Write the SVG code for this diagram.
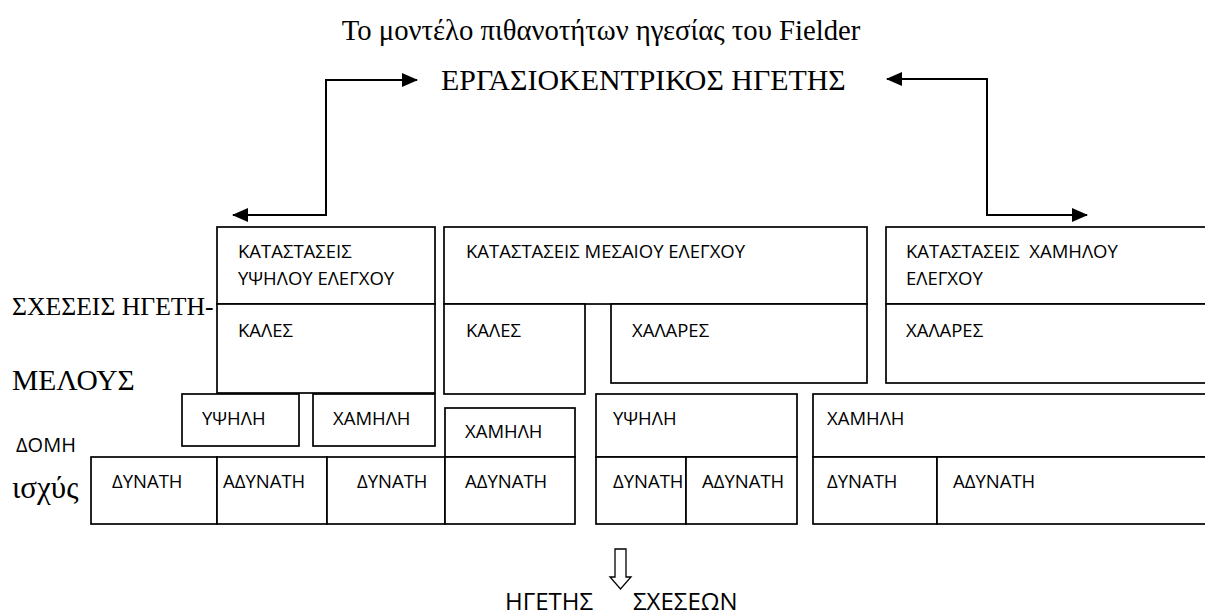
<svg xmlns="http://www.w3.org/2000/svg" width="1205" height="615" viewBox="0 0 1205 615">
  <style>
    .serif { font-family: "Liberation Serif", "Times New Roman", serif; fill: #000; }
    .lbl { font-family: "Open Sans", "Noto Sans", sans-serif; font-size: 18.5px; fill: #000; }
    .big { font-family: "Open Sans", "Noto Sans", sans-serif; font-size: 24px; fill: #000; }
    .box { fill: #fff; stroke: #000; stroke-width: 1.7; }
    .conn { fill: none; stroke: #000; stroke-width: 2; }
  </style>
  <defs>
    <marker id="arrow" viewBox="0 0 16 14" refX="15" refY="7" markerWidth="16" markerHeight="14" markerUnits="userSpaceOnUse" orient="auto-start-reverse">
      <path d="M0,0 L16,7 L0,14 Z" fill="#000"/>
    </marker>
  </defs>

  <rect width="1205" height="615" fill="#fff"/>

  <!-- headings -->
  <text class="serif" x="601" y="40" font-size="28.7" text-anchor="middle">Το μοντέλο πιθανοτήτων ηγεσίας του Fielder</text>
  <text id="task-leader" class="serif" x="441" y="90" font-size="29.9">ΕΡΓΑΣΙΟΚΕΝΤΡΙΚΟΣ ΗΓΕΤΗΣ</text>

  <!-- row labels -->
  <text class="serif" x="12" y="315" font-size="25.7">ΣΧΕΣΕΙΣ ΗΓΕΤΗ-</text>
  <text class="serif" x="12" y="390" font-size="29.5">ΜΕΛΟΥΣ</text>
  <text class="lbl" x="16" y="452" style="font-size:20px">ΔΟΜΗ</text>
  <text class="serif" x="12" y="498" font-size="31">ισχύς</text>

  <!-- connectors -->
  <g id="connectors">
    <path class="conn" d="M233,215 H326 V80 H417" marker-start="url(#arrow)" marker-end="url(#arrow)"/>
    <path class="conn" d="M887,79 H987 V215 H1087" marker-start="url(#arrow)" marker-end="url(#arrow)"/>
    <!-- hollow downward arrow -->
    <path d="M615,549 H626 V577 H631 L620.5,589 L610,577 H615 Z" fill="#fff" stroke="#000" stroke-width="1.3"/>
  </g>

  <!-- high control column -->
  <g id="high-control">
    <rect class="box" x="217" y="227" width="218" height="77"/>
    <text class="lbl" x="238" y="258">ΚΑΤΑΣΤΑΣΕΙΣ</text>
    <text class="lbl" x="238" y="285">ΥΨΗΛΟΥ ΕΛΕΓΧΟΥ</text>
  </g>
  <g id="high-good">
    <rect class="box" x="217" y="304" width="218" height="89"/>
    <text class="lbl" x="238" y="337">ΚΑΛΕΣ</text>
  </g>
  <g id="high-struct-high">
    <rect class="box" x="182" y="394" width="117" height="52"/>
    <text class="lbl" x="202" y="425">ΥΨΗΛΗ</text>
  </g>
  <g id="high-struct-low">
    <rect class="box" x="313" y="394" width="122" height="52"/>
    <text class="lbl" x="333" y="425">ΧΑΜΗΛΗ</text>
  </g>
  <g id="high-power">
    <rect class="box" x="91" y="457" width="126" height="67"/>
    <text class="lbl" x="112" y="488">ΔΥΝΑΤΗ</text>
    <rect class="box" x="217" y="457" width="110" height="67"/>
    <text class="lbl" x="223" y="488">ΑΔΥΝΑΤΗ</text>
    <rect class="box" x="327" y="457" width="118" height="67"/>
    <text class="lbl" x="357" y="488">ΔΥΝΑΤΗ</text>
  </g>

  <!-- medium control column -->
  <g id="mid-control">
    <rect class="box" x="444" y="227" width="423" height="77"/>
    <text class="lbl" x="466" y="258">ΚΑΤΑΣΤΑΣΕΙΣ ΜΕΣΑΙΟΥ ΕΛΕΓΧΟΥ</text>
  </g>
  <g id="mid-good">
    <rect class="box" x="444" y="304" width="141" height="90"/>
    <text class="lbl" x="466" y="337">ΚΑΛΕΣ</text>
  </g>
  <g id="mid-poor">
    <rect class="box" x="611" y="304" width="256" height="79"/>
    <text class="lbl" x="632" y="337">ΧΑΛΑΡΕΣ</text>
  </g>
  <g id="mid-struct-low">
    <rect class="box" x="445" y="408" width="130" height="49"/>
    <text class="lbl" x="465" y="438">ΧΑΜΗΛΗ</text>
    <rect class="box" x="445" y="457" width="130" height="67"/>
    <text class="lbl" x="465" y="488">ΑΔΥΝΑΤΗ</text>
  </g>
  <g id="mid-struct-high">
    <rect class="box" x="596" y="394" width="201" height="63"/>
    <text class="lbl" x="613" y="425">ΥΨΗΛΗ</text>
    <rect class="box" x="596" y="457" width="90" height="67"/>
    <text class="lbl" x="613" y="488">ΔΥΝΑΤΗ</text>
    <rect class="box" x="686" y="457" width="111" height="67"/>
    <text class="lbl" x="702" y="488">ΑΔΥΝΑΤΗ</text>
  </g>

  <!-- low control column -->
  <g id="low-control">
    <rect class="box" x="886" y="227" width="330" height="77"/>
    <text class="lbl" x="906" y="258" xml:space="preserve">ΚΑΤΑΣΤΑΣΕΙΣ  ΧΑΜΗΛΟΥ</text>
    <text class="lbl" x="906" y="285">ΕΛΕΓΧΟΥ</text>
  </g>
  <g id="low-poor">
    <rect class="box" x="886" y="304" width="330" height="79"/>
    <text class="lbl" x="906" y="337">ΧΑΛΑΡΕΣ</text>
  </g>
  <g id="low-struct">
    <rect class="box" x="813" y="394" width="403" height="63"/>
    <text class="lbl" x="827" y="425">ΧΑΜΗΛΗ</text>
    <rect class="box" x="813" y="457" width="124" height="67"/>
    <text class="lbl" x="827" y="488">ΔΥΝΑΤΗ</text>
    <rect class="box" x="937" y="457" width="279" height="67"/>
    <text class="lbl" x="953" y="488">ΑΔΥΝΑΤΗ</text>
  </g>

  <!-- outcome -->
  <g id="relations-leader">
    <text class="big" x="505" y="610">ΗΓΕΤΗΣ</text>
    <text class="big" x="633" y="610">ΣΧΕΣΕΩΝ</text>
  </g>
</svg>
